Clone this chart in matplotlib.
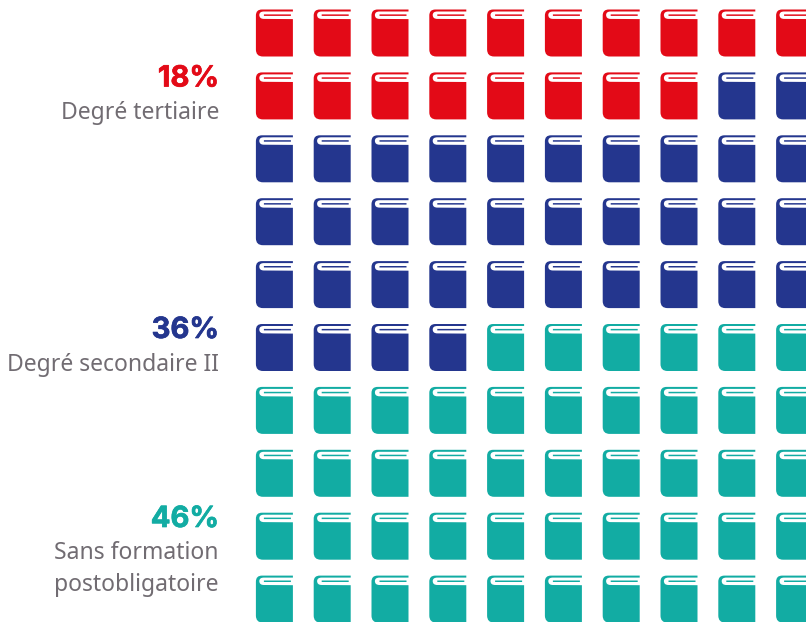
import matplotlib
matplotlib.use("Agg")
import matplotlib.pyplot as plt
import matplotlib.patheffects as pe
from matplotlib.path import Path

shares = [18, 36, 46]
percent_labels = ["18%", "36%", "46%"]
category_labels = ["Degré tertiaire", "Degré secondaire II", "Sans formation\npostobligatoire"]
colors = ["#E30A17", "#24368E", "#12ACA3"]

W, H = 806, 622
COLS, ROWS = 10, 10
X0, DX = 274.4, 57.8
Y0, DY = 33.0, 62.9

fig = plt.figure(figsize=(W / 100, H / 100), dpi=100)
ax = fig.add_axes([0, 0, 1, 1])
ax.set_xlim(-X0 / DX, (W - X0) / DX)
ax.set_ylim((H - Y0) / DY, -Y0 / DY)
ax.axis("off")


def book_path():
    w, h = 37.0, 47.0
    M, L, C = Path.MOVETO, Path.LINETO, Path.CURVE3
    seg = [
        (M, (6, 0)), (L, (w, 0)), (L, (w, 2)), (L, (8, 2)),
        (C, (3.4, 2)), (C, (3.4, 5.5)), (C, (3.4, 9.4)), (C, (8, 9.4)),
        (L, (w, 9.6)), (L, (w, h)), (L, (7, h)),
        (C, (0, h)), (C, (0, h - 7)), (L, (0, 6)),
        (C, (0, 0)), (C, (6, 0)), (Path.CLOSEPOLY, (6, 0)),
        (M, (8, 4.9)), (L, (35, 4.9)), (L, (35, 6.4)), (L, (8, 6.4)),
        (Path.CLOSEPOLY, (8, 4.9)),
    ]
    codes = [s[0] for s in seg]
    verts = [(s[1][0] - w / 2, -(s[1][1] - h / 2)) for s in seg]
    return Path(verts, codes)


marker = book_path()
size_pt = 47 * 0.72

cells = [c for c, n in enumerate(shares) for _ in range(n)]
xs = [i % COLS for i in range(len(cells))]
ys = [i // COLS for i in range(len(cells))]
ax.scatter(xs, ys, s=size_pt ** 2, marker=marker, c=[colors[c] for c in cells],
           linewidths=0, clip_on=True)

TX = 219
pct_base = [86.5, 338, 527]
lab_base = [[119], [371], [559, 591]]
for i, pct in enumerate(percent_labels):
    t = fig.text(TX / W, 1 - pct_base[i] / H, pct, ha="right", va="baseline",
                 family="Inter", weight="bold", fontsize=21, color=colors[i])
    t.set_path_effects([pe.withStroke(linewidth=0.5, foreground=colors[i])])
    for line, b in zip(category_labels[i].split("\n"), lab_base[i]):
        fig.text(TX / W, 1 - b / H, line, ha="right", va="baseline",
                 family="Noto Sans", fontsize=16.5, color="#716C72")

fig.savefig("out.png", dpi=100, facecolor="white")
